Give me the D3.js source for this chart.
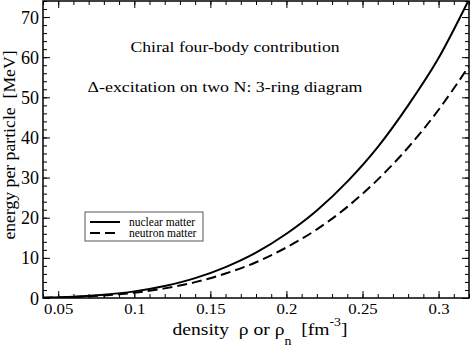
<!DOCTYPE html>
<html>
<head>
<script src="https://d3js.org/d3.v7.min.js"></script>
<style>
  body { margin: 0; background: #fff; }
  svg text { font-family: "Liberation Serif", "Times New Roman", serif; white-space: pre; fill: #000; }
</style>
</head>
<body>
<div id="chart"></div>
<script>
// density grid [fm^-3]
const density = [0.04, 0.06, 0.08, 0.10, 0.12, 0.14, 0.16, 0.18, 0.20, 0.22, 0.24, 0.26, 0.28, 0.30, 0.32];
// energy per particle [MeV]
const nuclearMatter = [0.08, 0.31, 0.80, 1.65, 3.0, 4.95, 7.7, 11.3, 16.0, 21.8, 29.0, 37.6, 48.0, 59.8, 74.4];
const neutronMatter = [0.07, 0.25, 0.64, 1.32, 2.4, 3.95, 6.1, 8.9, 12.6, 17.1, 22.7, 29.5, 37.5, 46.9, 57.8];

const xTicks = [0.05, 0.1, 0.15, 0.2, 0.25, 0.3];
const xTickLabels = ["0.05", "0.1", "0.15", "0.2", "0.25", "0.3"];
const xMinor = d3.range(4, 33).map(d => d / 100);
const yTicks = [0, 10, 20, 30, 40, 50, 60, 70];
const yMinor = d3.range(0, 75, 2);

const series = [
  { name: "nuclear matter", values: nuclearMatter, dash: null },
  { name: "neutron matter", values: neutronMatter, dash: "10,5" }
];

const W = 470, H = 347;
const margin = { top: 1, right: 1, bottom: 49, left: 43 };
const width = W - margin.left - margin.right;
const height = H - margin.top - margin.bottom;

const svg = d3.select("#chart").append("svg")
  .attr("width", W).attr("height", H);

const g = svg.append("g")
  .attr("transform", `translate(${margin.left},${margin.top})`);

const x = d3.scaleLinear().domain([0.04, 0.32]).range([0, width]);
const y = d3.scaleLinear().domain([0, 74]).range([height, 0]);

svg.append("defs").append("clipPath").attr("id", "clip")
  .append("rect").attr("width", width).attr("height", height);

function styleAxis(sel) {
  sel.select(".domain").remove();
  sel.attr("font-family", null).attr("font-size", null);
  sel.selectAll("line").attr("stroke", "#000").attr("stroke-width", 1);
}

// the reference text is stretched sideways, so scale glyphs to the widths seen there
function stretchTo(sel, targetWidth) {
  sel.each(function () {
    const bw = this.getBBox().width;
    const cur = d3.select(this).attr("transform") || "";
    d3.select(this).attr("transform", `${cur} scale(${targetWidth / bw},1)`);
  });
}

// bottom
g.append("g").attr("transform", `translate(0,${height})`)
  .call(d3.axisBottom(x).tickValues(xMinor).tickSize(-4).tickFormat(""))
  .call(styleAxis);
const xAxis = g.append("g").attr("transform", `translate(0,${height})`)
  .call(d3.axisBottom(x).tickValues(xTicks).tickSize(-7).tickPadding(6)
    .tickFormat((d, i) => xTickLabels[i]))
  .call(styleAxis);
xAxis.selectAll("text").style("font-size", "14px")
  .attr("transform", d => `scale(${xTickLabels[xTicks.indexOf(d)].length === 3 ? 1.2 : 1.2},1)`);
// top
g.append("g")
  .call(d3.axisTop(x).tickValues(xMinor).tickSize(-4).tickFormat(""))
  .call(styleAxis);
g.append("g")
  .call(d3.axisTop(x).tickValues(xTicks).tickSize(-7).tickFormat(""))
  .call(styleAxis);
// left
g.append("g")
  .call(d3.axisLeft(y).tickValues(yMinor).tickSize(-4).tickFormat(""))
  .call(styleAxis);
const yAxis = g.append("g")
  .call(d3.axisLeft(y).tickValues(yTicks).tickSize(-7).tickPadding(4))
  .call(styleAxis);
yAxis.selectAll("text").style("font-size", "18px").attr("dy", "0.34em");
// right
g.append("g").attr("transform", `translate(${width},0)`)
  .call(d3.axisRight(y).tickValues(yMinor).tickSize(-4).tickFormat(""))
  .call(styleAxis);
g.append("g").attr("transform", `translate(${width},0)`)
  .call(d3.axisRight(y).tickValues(yTicks).tickSize(-7).tickFormat(""))
  .call(styleAxis);

// curves
const line = d3.line()
  .x((d, i) => x(density[i]))
  .y(d => y(d))
  .curve(d3.curveMonotoneX);

g.append("g").attr("clip-path", "url(#clip)")
  .selectAll("path.curve")
  .data(series)
  .join("path")
  .attr("class", "curve")
  .attr("fill", "none")
  .attr("stroke", "#000")
  .attr("stroke-width", 2)
  .attr("stroke-dasharray", d => d.dash)
  .attr("d", d => line(d.values));

// frame
g.append("rect")
  .attr("width", width).attr("height", height)
  .attr("fill", "none").attr("stroke", "#000").attr("stroke-width", 1.5);

// annotations
svg.append("g").attr("transform", "translate(235,52)")
  .append("text")
  .attr("text-anchor", "middle")
  .style("font-size", "15px")
  .text("Chiral four-body contribution")
  .call(stretchTo, 210);

svg.append("g").attr("transform", "translate(225,92)")
  .append("text")
  .attr("text-anchor", "middle")
  .style("font-size", "14.5px")
  .text("\u0394-excitation on two N: 3-ring diagram")
  .call(stretchTo, 276);

// legend
const legend = g.append("g").attr("transform", "translate(42,211)");
legend.append("rect")
  .attr("width", 118).attr("height", 29)
  .attr("fill", "#fff").attr("stroke", "#555").attr("stroke-width", 1);
legend.selectAll("line")
  .data(series)
  .join("line")
  .attr("x1", 5).attr("x2", 35)
  .attr("y1", (d, i) => 10 + i * 11).attr("y2", (d, i) => 10 + i * 11)
  .attr("stroke", "#000").attr("stroke-width", 2)
  .attr("stroke-dasharray", d => d.dash);
legend.selectAll("text")
  .data(series)
  .join("text")
  .attr("x", 44)
  .attr("y", (d, i) => 10 + i * 11)
  .attr("dy", "0.35em")
  .style("font-size", "11.5px")
  .text(d => d.name);

// axis titles
const xt = svg.append("g").attr("transform", "translate(260,335)")
  .append("text")
  .attr("text-anchor", "middle")
  .style("font-size", "17px");
xt.append("tspan").text("density  \u03C1 or \u03C1");
xt.append("tspan").attr("dy", 10).style("font-size", "12px").text("n");
xt.append("tspan").attr("dy", -10).text("  [fm");
xt.append("tspan").attr("dy", -9).style("font-size", "12px").text("-3");
xt.append("tspan").attr("dy", 9).text("]");
xt.call(stretchTo, 175);

svg.append("text")
  .attr("transform", "translate(15,145) rotate(-90)")
  .attr("text-anchor", "middle")
  .style("font-size", "17.7px")
  .text("energy per particle  [MeV]");
</script>
</body>
</html>
